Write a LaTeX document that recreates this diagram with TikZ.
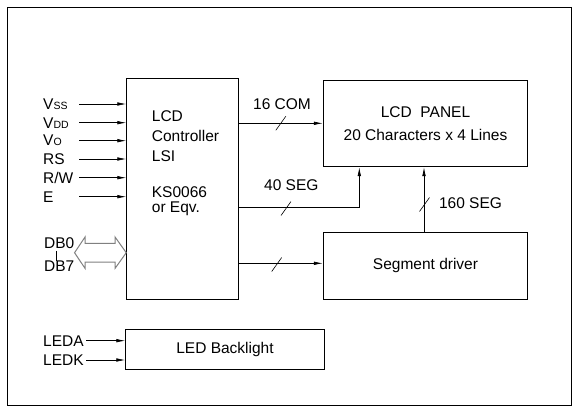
\documentclass[tikz,border=0pt]{standalone}
\usepackage{fontspec}
\setmainfont{Liberation Sans}
\usepackage{tikz}
\usetikzlibrary{positioning,arrows.meta,calc}
\newcommand{\diagfont}{\fontsize{15.5}{20}\selectfont}
\newcommand{\smallsub}[1]{{\fontsize{10.5}{12}\selectfont #1}}

\begin{document}
\begin{tikzpicture}[
    x=1pt, y=-1pt,
    font=\diagfont,
    block/.style={rectangle, draw, line width=0.9pt, inner sep=0pt},
    sigin/.style={anchor=west, inner sep=0pt, text width=36pt, align=left},
    sig/.style={-{Latex[length=9pt,width=3.6pt]}, line width=0.7pt},
    busnote/.style={inner sep=0pt},
    dbus/.style={draw=gray, line width=1pt, line join=miter},
    slash/.pic={\draw[line width=0.6pt] (-5,7) -- (5,-7);},
]
\useasboundingbox (0,0) rectangle (578,413);
\draw[line width=1pt] (7,7) rectangle (571,405);

% blocks
\node[block, minimum width=111.6pt, minimum height=220.3pt] (ctrl) at (182.5,188.9) {};
\node[inner sep=0pt, anchor=north west, align=left] (ctrlname) at (151.7,110.7) {LCD\\Controller\\LSI};
\node[inner sep=0pt, anchor=north west, align=left, font=\fontsize{15.5}{15.6}\selectfont] (ctrlchip) at (151.7,186) {KS0066\\or Eqv.};
\node[block, minimum width=204.4pt, minimum height=86pt, align=center] (panel) at (425.5,123.7) {LCD\ \ PANEL\\[3.3pt]20 Characters x 4 Lines};
\node[block, minimum width=204.4pt, minimum height=66.3pt] (segdrv) at (425.5,265.9) {Segment driver};
\node[block, minimum width=198.6pt, minimum height=40pt] (backlight) at (225,349.3) {LED Backlight};

% controller inputs
\node[sigin] (vss) at (43,104) {V\smallsub{SS}};
\node[sigin] (vdd) at (43,122.7) {V\smallsub{DD}};
\node[sigin] (vo) at (43,140.7) {V\smallsub{O}};
\node[sigin] (rs) at (43,159) {RS};
\node[sigin] (rw) at (43,177.7) {R/W};
\node[sigin] (en) at (43,196.7) {E};
\draw[sig] (vss.east) -- (vss.east -| ctrl.west);
\draw[sig] (vdd.east) -- (vdd.east -| ctrl.west);
\draw[sig] (vo.east) -- (vo.east -| ctrl.west);
\draw[sig] (rs.east) -- (rs.east -| ctrl.west);
\draw[sig] (rw.east) -- (rw.east -| ctrl.west);
\draw[sig] (en.east) -- (en.east -| ctrl.west);

% data bus
\node[inner sep=0pt, anchor=west] (db0) at (44,243.3) {DB0};
\node[inner sep=0pt, anchor=west] (db7) at (44,266) {DB7};
\draw[line width=1pt] ([xshift=-3pt,yshift=-2pt]db0.south) -- ([xshift=-3pt,yshift=-1pt]db7.north);
\coordinate (dbtip) at (ctrl.west |- 0,252.7);
\draw[dbus] (dbtip) -- ++(-11.2,15.7) -- ++(0,-6.3) -- ++(-30,0) -- ++(0,6.3)
    -- ++(-10.5,-15.7) -- ++(10.5,-15.7) -- ++(0,6.3) -- ++(30,0) -- ++(0,-6.3) -- cycle;

% outputs
\draw[sig] (ctrl.east |- 0,123.3) -- (panel.west |- 0,123.3);
\pic at (280.8,123.3) {slash};
\node[busnote] (com) at (282,104.5) {16 COM};
\coordinate (segin) at (359.3,0 |- panel.south);
\draw[sig] (ctrl.east |- 0,207.3) -| (segin);
\pic at (286,208.5) {slash};
\node[busnote] (seg40) at (291.3,185) {40 SEG};
\draw[sig] (ctrl.east |- 0,263.3) -- (segdrv.west |- 0,263.3);
\pic at (276.7,264.5) {slash};
\draw[sig] (424,0 |- segdrv.north) -- (424,0 |- panel.south);
\pic at (424.5,204.5) {slash};
\node[busnote] (seg160) at (470.5,203.3) {160 SEG};

% backlight
\node[sigin, text width=43pt] (leda) at (43,340.7) {LEDA};
\node[sigin, text width=43pt] (ledk) at (43,360) {LEDK};
\draw[sig] (leda.east) -- (leda.east -| backlight.west);
\draw[sig] (ledk.east) -- (ledk.east -| backlight.west);
\end{tikzpicture}
\end{document}
